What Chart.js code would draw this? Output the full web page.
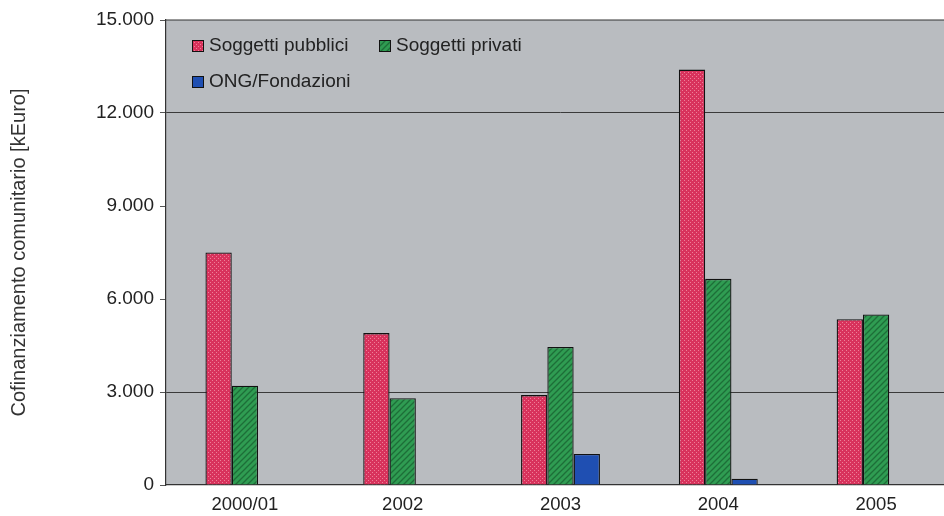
<!DOCTYPE html>
<html>
<head>
<meta charset="utf-8">
<script src="https://cdn.jsdelivr.net/npm/chart.js@4.4.1/dist/chart.umd.min.js"></script>
<style>
  html, body { margin: 0; padding: 0; background: #fff; overflow: hidden; }
  #wrap { width: 955px; height: 516px; position: relative; }
</style>
</head>
<body>
<div id="wrap"><canvas id="chart"></canvas></div>
<script>
var anni = ['2000/01', '2002', '2003', '2004', '2005'];
var pubblici = [7500, 4900, 2900, 13400, 5350];
var privati = [3200, 2800, 4450, 6650, 5500];
var ong = [0, 0, 1000, 200, 0];
var yTicks = [0, 3000, 6000, 9000, 12000, 15000];

var FONT = "'Liberation Sans', Arial, sans-serif";

// retino a puntini per i soggetti pubblici
function puntini() {
    var c = document.createElement('canvas');
    c.width = 4; c.height = 4;
    var g = c.getContext('2d');
    g.fillStyle = '#d8325c';
    g.fillRect(0, 0, 4, 4);
    g.fillStyle = '#ee7f98';
    g.fillRect(0, 0, 1, 1);
    g.fillRect(2, 2, 1, 1);
    return g.createPattern(c, 'repeat');
}

// tratteggio diagonale per i soggetti privati
function righe() {
    var c = document.createElement('canvas');
    c.width = 6; c.height = 6;
    var g = c.getContext('2d');
    g.fillStyle = '#2f9c52';
    g.fillRect(0, 0, 6, 6);
    g.strokeStyle = '#1d6e38';
    g.lineWidth = 1.3;
    g.beginPath();
    g.moveTo(0, 6); g.lineTo(6, 0);
    g.moveTo(-1, 1); g.lineTo(1, -1);
    g.moveTo(5, 7); g.lineTo(7, 5);
    g.stroke();
    return g.createPattern(c, 'repeat');
}

function migliaia(v) {
    return String(v).replace(/\B(?=(\d{3})+(?!\d))/g, '.');
}

var sfondo = {
    id: 'sfondo',
    beforeDraw: function(chart) {
        var a = chart.chartArea, ctx = chart.ctx;
        ctx.save();
        ctx.fillStyle = '#b9bcc0';
        ctx.fillRect(a.left, a.top, a.right - a.left, a.bottom - a.top);
        ctx.strokeStyle = '#333';
        ctx.lineWidth = 1.2;
        ctx.beginPath();
        ctx.moveTo(a.left, a.top);
        ctx.lineTo(a.right, a.top);
        ctx.stroke();
        ctx.restore();
    }
};

// legenda dentro l'area del grafico, su due righe
var legenda = {
    id: 'legenda',
    afterDraw: function(chart) {
        var a = chart.chartArea, ctx = chart.ctx;
        var pos = [[26, 26], [213, 26], [26, 62]];
        ctx.save();
        ctx.font = '19px ' + FONT;
        ctx.textBaseline = 'middle';
        chart.data.datasets.forEach(function(ds, i) {
            var x = a.left + pos[i][0], y = a.top + pos[i][1];
            ctx.fillStyle = ds.backgroundColor;
            ctx.fillRect(x, y - 6, 11, 11);
            ctx.strokeStyle = '#111';
            ctx.lineWidth = 1;
            ctx.strokeRect(x + 0.5, y - 5.5, 11, 11);
            ctx.fillStyle = '#222';
            ctx.fillText(ds.label, x + 17, y);
        });
        ctx.restore();
    }
};

function InitChart() {
    new Chart(document.getElementById('chart'), {
        type: 'bar',
        data: {
            labels: anni,
            datasets: [
                { label: 'Soggetti pubblici', data: pubblici, backgroundColor: puntini() },
                { label: 'Soggetti privati', data: privati, backgroundColor: righe() },
                { label: 'ONG/Fondazioni', data: ong, backgroundColor: '#1f4fb2' }
            ].map(function(ds) {
                ds.borderColor = '#111';
                ds.borderWidth = 1.3;
                ds.borderSkipped = 'bottom';
                ds.barPercentage = 1;
                ds.categoryPercentage = 0.5;
                return ds;
            })
        },
        options: {
            responsive: true,
            maintainAspectRatio: false,
            animation: false,
            layout: { padding: { top: 20, right: 0, bottom: 0, left: 0 } },
            plugins: { legend: { display: false }, tooltip: { enabled: false } },
            scales: {
                x: {
                    afterFit: function(s) { s.height = 31; },
                    grid: { display: false, drawTicks: false },
                    border: { display: true, color: '#333', width: 1.2 },
                    ticks: { color: '#222', font: { family: FONT, size: 18.5 }, padding: 9, maxRotation: 0 }
                },
                y: {
                    min: 0,
                    max: 15000,
                    afterBuildTicks: function(s) {
                        s.ticks = yTicks.map(function(v) { return { value: v }; });
                    },
                    afterFit: function(s) { s.width = 166; },
                    grid: {
                        color: function(c) {
                            var v = c.tick && c.tick.value;
                            return (v === 3000 || v === 12000) ? '#3a3a3a' : 'rgba(0,0,0,0)';
                        },
                        tickColor: '#555',
                        tickLength: 6,
                        lineWidth: 1
                    },
                    border: { display: true, color: '#333', width: 1.2 },
                    ticks: {
                        color: '#222',
                        font: { family: FONT, size: 19 },
                        padding: 6,
                        callback: function(v) { return migliaia(v); }
                    },
                    title: {
                        display: true,
                        text: 'Cofinanziamento comunitario [kEuro]',
                        color: '#333',
                        font: { family: FONT, size: 20 },
                        padding: { top: 7, bottom: 0 }
                    }
                }
            }
        },
        plugins: [sfondo, legenda]
    });
}

InitChart();
</script>
</body>
</html>
